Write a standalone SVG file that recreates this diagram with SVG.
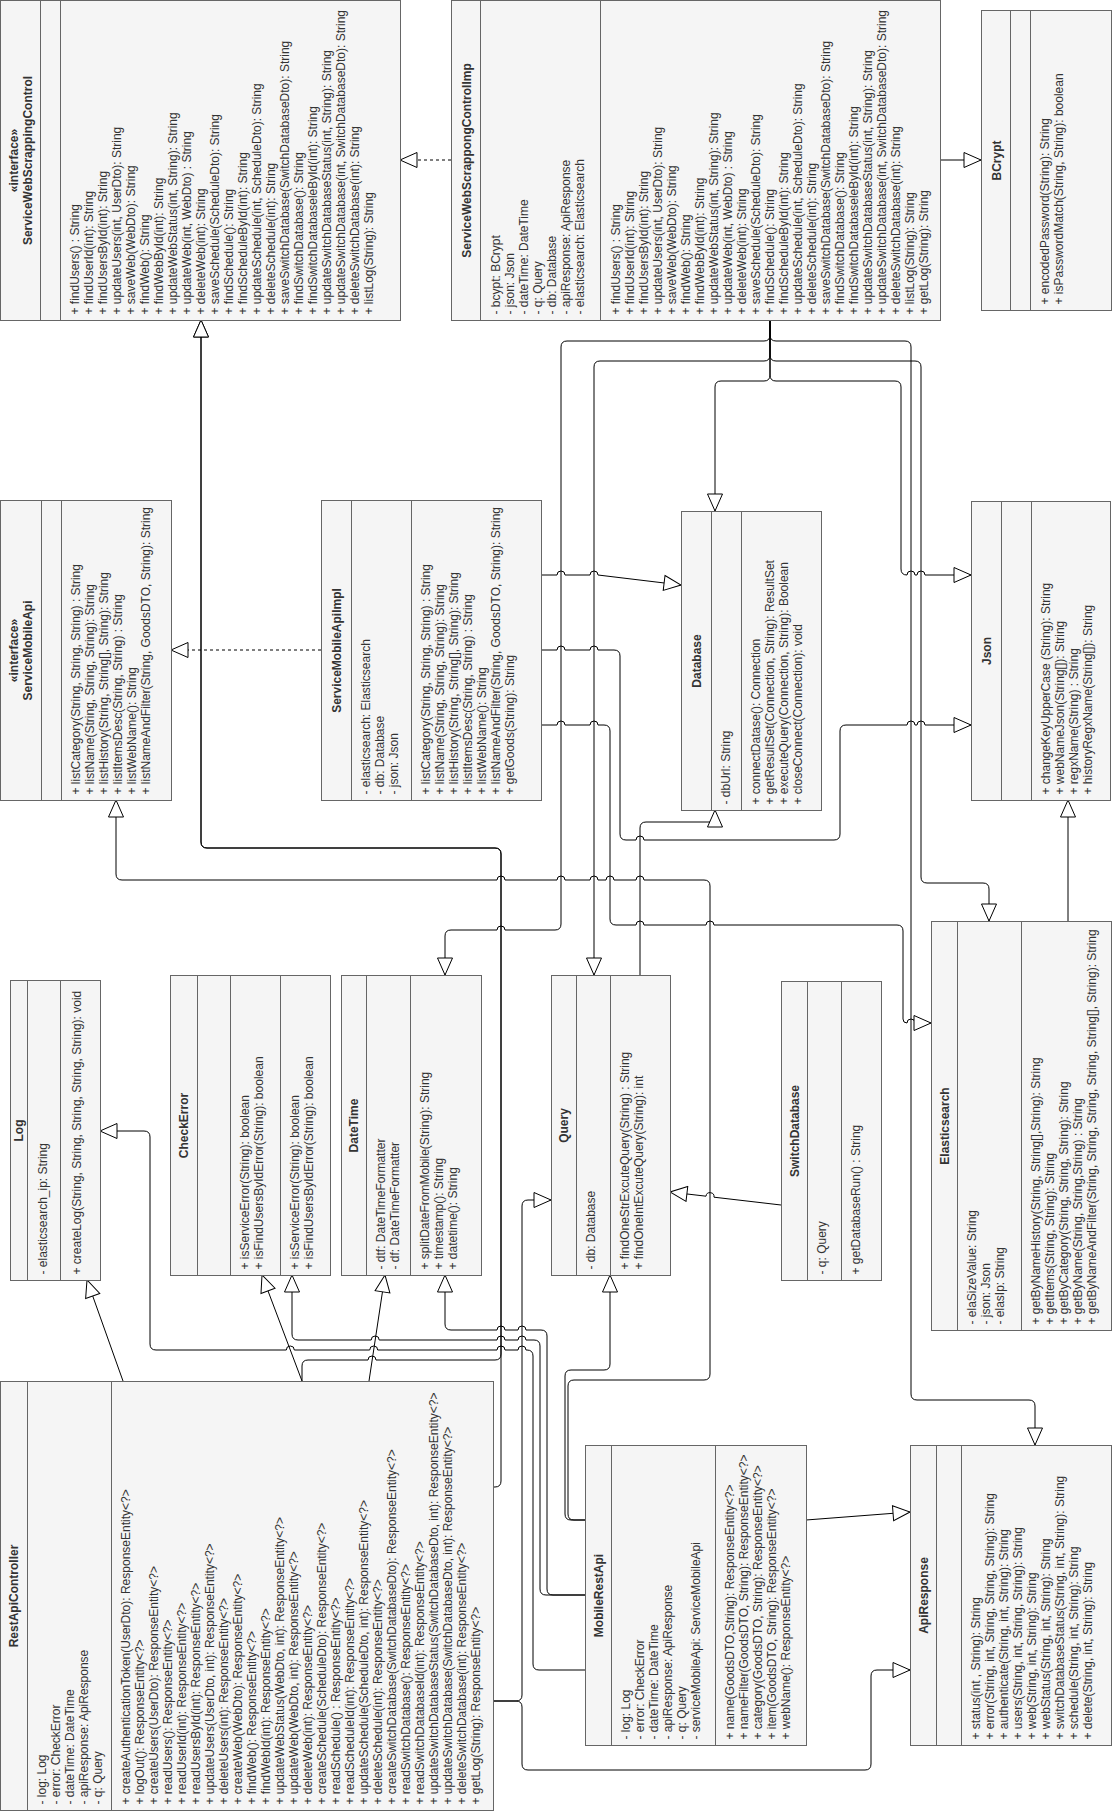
<svg xmlns="http://www.w3.org/2000/svg" width="1114" height="1811" viewBox="0 0 1114 1811">
<style>
.box{fill:#f5f5f5;stroke:#666666;stroke-width:1}
.dv{stroke:#666666;stroke-width:1}
text{font-family:"Liberation Sans",Arial,Helvetica,sans-serif;font-size:12px;fill:#333333}
.h{font-weight:bold;text-anchor:middle}
.e{fill:none;stroke:#000000;stroke-width:1;marker-end:url(#tri)}
.d{stroke-dasharray:3 3}
</style>
<defs>
<marker id="tri" viewBox="0 0 19 17" refX="18" refY="8.5" markerWidth="19" markerHeight="17" markerUnits="userSpaceOnUse" orient="auto">
<path d="M1,1 L18,8.5 L1,16 Z" fill="#ffffff" stroke="#000000" stroke-width="1"/>
</marker>
</defs>

<!-- connectors (orthogonal, rounded corners, arc jumps at crossings) -->
<g id="edges">
<path class="e d" d="M451,160 H400"/>
<path class="e" d="M940,160 H981"/>
<!-- ServiceWebScrappongControlImp associations -->
<path class="e" d="M770,320 V335 Q770,341 764,341 H567 Q561,341 561,347 V924 Q561,930 555,930 H505 A4,4 0 0 0 497,930 H451 Q445,930 445,936 V975"/>
<path class="e" d="M770,320 V355 Q770,361 764,361 H600 Q594,361 594,367 V975"/>
<path class="e" d="M770,320 V375 Q770,381 764,381 H721 Q715,381 715,387 V511"/>
<path class="e" d="M770,320 V375 Q770,381 776,381 H895 Q901,381 901,387 V569 Q901,575 907,575 A4,4 0 0 1 915,575 H917 A4,4 0 0 1 925,575 H971"/>
<path class="e" d="M770,320 V335 Q770,341 776,341 H905 Q911,341 911,347 V1394 Q911,1400 917,1400 H1029 Q1035,1400 1035,1406 V1445"/>
<path class="e" d="M770,320 V355 Q770,361 776,361 H915 Q921,361 921,367 V877 Q921,883 927,883 H983 Q989,883 989,889 V921"/>
<!-- ServiceMobileApiImpl -->
<path class="e d" d="M321,650 H171"/>
<path class="e" d="M541,575 H557 A4,4 0 0 1 565,575 H590 A4,4 0 0 1 598,575 L681,585"/>
<path class="e" d="M541,650 H557 A4,4 0 0 1 565,650 H590 A4,4 0 0 1 598,650 H614 Q620,650 620,656 V834 Q620,840 626,840 H636 A4,4 0 0 1 644,840 H834 Q840,840 840,834 V731 Q840,725 846,725 H907 A4,4 0 0 1 915,725 H917 A4,4 0 0 1 925,725 H971"/>
<path class="e" d="M541,725 H557 A4,4 0 0 1 565,725 H590 A4,4 0 0 1 598,725 H604 Q610,725 610,731 V919 Q610,925 616,925 H636 A4,4 0 0 1 644,925 H706 A4,4 0 0 1 714,925 H897 Q903,925 903,931 V1019 Q903,1023 907,1023 A4,4 0 0 1 915,1023 H931"/>
<path class="e" d="M1068,921 V800"/>
<path class="e" d="M640,975 V828 Q640,822 646,822 H709 Q715,822 715,816 V810"/>
<path class="e" d="M781,1205 L714,1197.2 A4,4 0 0 0 706,1196.2 L670,1192"/>
<!-- RestApiController -->
<path class="e" d="M302,1381 V1366 Q302,1360 308,1360 H368 A4,4 0 0 1 376,1360 H495 Q501,1360 501,1354 V854 Q501,848 495,848 H207 Q201,848 201,842 V320"/>
<path class="e" d="M493,1487 H495 Q501,1487 501,1481 V854 Q501,848 495,848 H207 Q201,848 201,842 V320"/>
<path class="e" d="M493,1701 H516 Q522,1701 522,1695 V1206 Q522,1200 528,1200 H551"/>
<path class="e" d="M123,1381 L87,1280"/>
<path class="e" d="M302,1381 L262,1275"/>
<path class="e" d="M369,1381 L385,1275"/>
<path class="e" d="M493,1701 H516 Q522,1701 522,1707 V1764 Q522,1770 528,1770 H865 Q871,1770 871,1764 V1676 Q871,1670 877,1670 H910"/>
<!-- MobileRestApi -->
<path class="e" d="M806,1520 L910,1512"/>
<path class="e" d="M585,1670 H539 Q533,1670 533,1664 V1356 Q533,1350 527,1350 H526 A4,4 0 0 0 518,1350 H505 A4,4 0 0 0 497,1350 H377.7 A4,4 0 0 0 369.7,1350 H294.3 A4,4 0 0 0 286.3,1350 H156 Q150,1350 150,1344 V1137 Q150,1131 144,1131 H100"/>
<path class="e" d="M585,1595 H546 Q540,1595 540,1589 V1346 Q540,1340 534,1340 H526 A4,4 0 0 0 518,1340 H505 A4,4 0 0 0 497,1340 H379.2 A4,4 0 0 0 371.2,1340 H298 Q292,1340 292,1334 V1275"/>
<path class="e" d="M585,1595 H553 Q547,1595 547,1589 V1336 Q547,1330 541,1330 H526 A4,4 0 0 0 518,1330 H505 A4,4 0 0 0 497,1330 H451 Q445,1330 445,1324 V1275"/>
<path class="e" d="M585,1520 H571 Q565,1520 565,1514 V1376 Q565,1370 571,1370 H604 Q610,1370 610,1364 V1275"/>
<path class="e" d="M585,1520 H574 Q568,1520 568,1514 V1386 Q568,1380 574,1380 H704 Q710,1380 710,1374 V886 Q710,880 704,880 H644 A4,4 0 0 0 636,880 H614 A4,4 0 0 0 606,880 H598 A4,4 0 0 0 590,880 H565 A4,4 0 0 0 557,880 H505 A4,4 0 0 0 497,880 H122 Q116,880 116,874 V800"/>
</g>

<!-- ServiceWebScrappingControl -->
<g id="n-service-web-scrapping-control" transform="translate(0.5,320.5) rotate(-90)">
<rect class="box" x="0" y="0" width="320" height="400"/>
<line class="dv" x1="0" y1="40" x2="320" y2="40"/>
<line class="dv" x1="0" y1="60" x2="320" y2="60"/>
<text class="h" x="160" y="17.5">«interface»</text>
<text class="h" x="160" y="31.5">ServiceWebScrappingControl</text>
<text x="6" y="78">+ findUsers() : String</text>
<text x="6" y="92">+ findUserId(int): String</text>
<text x="6" y="106">+ findUsersById(int): String</text>
<text x="6" y="120">+ updateUsers(int, UserDto): String</text>
<text x="6" y="134">+ saveWeb(WebDto): String</text>
<text x="6" y="148">+ findWeb(): String</text>
<text x="6" y="162">+ findWebById(int): String</text>
<text x="6" y="176">+ updateWebStatus(int, String): String</text>
<text x="6" y="190">+ updateWeb(int, WebDto) : String</text>
<text x="6" y="204">+ deleteWeb(int): String</text>
<text x="6" y="218">+ saveSchedule(ScheduleDto): String</text>
<text x="6" y="232">+ findSchedule(): String</text>
<text x="6" y="246">+ findScheduleById(int): String</text>
<text x="6" y="260">+ updateSchedule(int, ScheduleDto): String</text>
<text x="6" y="274">+ deleteSchedule(int): String</text>
<text x="6" y="288">+ saveSwitchDatabase(SwitchDatabaseDto): String</text>
<text x="6" y="302">+ findSwitchDatabase(): String</text>
<text x="6" y="316">+ findSwitchDatabaseleById(int): String</text>
<text x="6" y="330">+ updateSwitchDatabaseStatus(int, String): String</text>
<text x="6" y="344">+ updateSwitchDatabase(int, SwitchDatabaseDto): String</text>
<text x="6" y="358">+ deleteSwitchDatabase(int): String</text>
<text x="6" y="372">+ listLog(String): String</text>
</g>

<!-- ServiceWebScrappongControlImp -->
<g id="n-service-web-scrappong-control-imp" transform="translate(451.5,320.5) rotate(-90)">
<rect class="box" x="0" y="0" width="320" height="489"/>
<line class="dv" x1="0" y1="29" x2="320" y2="29"/>
<line class="dv" x1="0" y1="149" x2="320" y2="149"/>
<text class="h" x="160" y="19">ServiceWebScrappongControlImp</text>
<text x="6" y="48">- bcypt: BCrypt</text>
<text x="6" y="62">- json: Json</text>
<text x="6" y="76">- dateTime: DateTime</text>
<text x="6" y="90">- q: Query</text>
<text x="6" y="104">- db: Database</text>
<text x="6" y="118">- apiResponse: ApiResponse</text>
<text x="6" y="132">- elasticsearch: Elasticsearch</text>
<text x="6" y="168">+ findUsers() : String</text>
<text x="6" y="182">+ findUserId(int): String</text>
<text x="6" y="196">+ findUsersById(int): String</text>
<text x="6" y="210">+ updateUsers(int, UserDto): String</text>
<text x="6" y="224">+ saveWeb(WebDto): String</text>
<text x="6" y="238">+ findWeb(): String</text>
<text x="6" y="252">+ findWebById(int): String</text>
<text x="6" y="266">+ updateWebStatus(int, String): String</text>
<text x="6" y="280">+ updateWeb(int, WebDto) : String</text>
<text x="6" y="294">+ deleteWeb(int): String</text>
<text x="6" y="308">+ saveSchedule(ScheduleDto): String</text>
<text x="6" y="322">+ findSchedule(): String</text>
<text x="6" y="336">+ findScheduleById(int): String</text>
<text x="6" y="350">+ updateSchedule(int, ScheduleDto): String</text>
<text x="6" y="364">+ deleteSchedule(int): String</text>
<text x="6" y="378">+ saveSwitchDatabase(SwitchDatabaseDto): String</text>
<text x="6" y="392">+ findSwitchDatabase(): String</text>
<text x="6" y="406">+ findSwitchDatabaseleById(int): String</text>
<text x="6" y="420">+ updateSwitchDatabaseStatus(int, String): String</text>
<text x="6" y="434">+ updateSwitchDatabase(int, SwitchDatabaseDto): String</text>
<text x="6" y="448">+ deleteSwitchDatabase(int): String</text>
<text x="6" y="462">+ listLog(String): String</text>
<text x="6" y="476">+ getLog(String): String</text>
</g>

<!-- BCrypt -->
<g id="n-bcrypt" transform="translate(981.5,310.5) rotate(-90)">
<rect class="box" x="0" y="0" width="300" height="130"/>
<line class="dv" x1="0" y1="29" x2="300" y2="29"/>
<line class="dv" x1="0" y1="49" x2="300" y2="49"/>
<text class="h" x="150" y="19">BCrypt</text>
<text x="6" y="67.5">+ encodedPassword(String): String</text>
<text x="6" y="81.5">+ isPasswordMatch(String, String): boolean</text>
</g>

<!-- ServiceMobileApi -->
<g id="n-service-mobile-api" transform="translate(0.5,800.5) rotate(-90)">
<rect class="box" x="0" y="0" width="300" height="171"/>
<line class="dv" x1="0" y1="41" x2="300" y2="41"/>
<line class="dv" x1="0" y1="61" x2="300" y2="61"/>
<text class="h" x="150" y="17.8">«interface»</text>
<text class="h" x="150" y="31.8">ServiceMobileApi</text>
<text x="6" y="79.5">+ listCategory(String, String, String) : String</text>
<text x="6" y="93.5">+ listName(String, String, String): String</text>
<text x="6" y="107.5">+ listHistory(String, String[], String): String</text>
<text x="6" y="121.5">+ listItemsDesc(String, String) : String</text>
<text x="6" y="135.5">+ listWebName(): String</text>
<text x="6" y="149.5">+ listNameAndFilter(String, GoodsDTO, String): String</text>
</g>

<!-- ServiceMobileApiImpl -->
<g id="n-service-mobile-api-impl" transform="translate(321.5,800.5) rotate(-90)">
<rect class="box" x="0" y="0" width="300" height="220"/>
<line class="dv" x1="0" y1="30" x2="300" y2="30"/>
<line class="dv" x1="0" y1="90" x2="300" y2="90"/>
<text class="h" x="150" y="19.3">ServiceMobileApiImpl</text>
<text x="6" y="48.5">- elasticsearch: Elasticsearch</text>
<text x="6" y="62.5">- db: Database</text>
<text x="6" y="76.5">- json: Json</text>
<text x="6" y="108.5">+ listCategory(String, String, String) : String</text>
<text x="6" y="122.5">+ listName(String, String, String): String</text>
<text x="6" y="136.5">+ listHistory(String, String[], String): String</text>
<text x="6" y="150.5">+ listItemsDesc(String, String) : String</text>
<text x="6" y="164.5">+ listWebName(): String</text>
<text x="6" y="178.5">+ listNameAndFilter(String, GoodsDTO, String): String</text>
<text x="6" y="192.5">+ getGoods(String): String</text>
</g>

<!-- Database -->
<g id="n-database" transform="translate(681.5,810.5) rotate(-90)">
<rect class="box" x="0" y="0" width="299" height="140"/>
<line class="dv" x1="0" y1="30" x2="299" y2="30"/>
<line class="dv" x1="0" y1="60" x2="299" y2="60"/>
<text class="h" x="149.5" y="19.3">Database</text>
<text x="6" y="48.5">- dbUrl: String</text>
<text x="6" y="78.5">+ connectDatase(): Connection</text>
<text x="6" y="92.5">+ getResultSet(Connection, String): ResultSet</text>
<text x="6" y="106.5">+ executeQuery(Connection, String): Boolean</text>
<text x="6" y="120.5">+ closeConnect(Connection): void</text>
</g>

<!-- Json -->
<g id="n-json" transform="translate(971.5,800.5) rotate(-90)">
<rect class="box" x="0" y="0" width="299" height="139"/>
<line class="dv" x1="0" y1="30" x2="299" y2="30"/>
<line class="dv" x1="0" y1="60" x2="299" y2="60"/>
<text class="h" x="149.5" y="19.3">Json</text>
<text x="6" y="78.5">+ changeKeyUpperCase (String): String</text>
<text x="6" y="92.5">+ webNameJson(String[]): String</text>
<text x="6" y="106.5">+ regxName(String) : String</text>
<text x="6" y="120.5">+ historyRegxName(String[]): String</text>
</g>

<!-- Log -->
<g id="n-log" transform="translate(10.5,1280.5) rotate(-90)">
<rect class="box" x="0" y="0" width="300" height="90"/>
<line class="dv" x1="0" y1="17" x2="300" y2="17"/>
<line class="dv" x1="0" y1="50" x2="300" y2="50"/>
<text class="h" x="150" y="12.8">Log</text>
<text x="6" y="36">- elasticsearch_ip: String</text>
<text x="6" y="70">+ createLog(String, String, String, String, String): void</text>
</g>

<!-- CheckError -->
<g id="n-check-error" transform="translate(170.5,1275.5) rotate(-90)">
<rect class="box" x="0" y="0" width="300" height="160"/>
<line class="dv" x1="0" y1="27" x2="300" y2="27"/>
<line class="dv" x1="0" y1="60" x2="300" y2="60"/>
<line class="dv" x1="0" y1="110" x2="300" y2="110"/>
<text class="h" x="150" y="17.8">CheckError</text>
<text x="6" y="78.5">+ isServiceError(String): boolean</text>
<text x="6" y="92.5">+ isFindUsersByIdError(String): boolean</text>
<text x="6" y="128.5">+ isServiceError(String): boolean</text>
<text x="6" y="142.5">+ isFindUsersByIdError(String): boolean</text>
</g>

<!-- DateTime -->
<g id="n-date-time" transform="translate(341.5,1275.5) rotate(-90)">
<rect class="box" x="0" y="0" width="300" height="140"/>
<line class="dv" x1="0" y1="25" x2="300" y2="25"/>
<line class="dv" x1="0" y1="69" x2="300" y2="69"/>
<text class="h" x="150" y="16.8">DateTime</text>
<text x="6" y="43.5">- dtf: DateTimeFormatter</text>
<text x="6" y="57.5">- df: DateTimeFormatter</text>
<text x="6" y="87.5">+ splitDateFromMobile(String): String</text>
<text x="6" y="101.5">+ timestamp(): String</text>
<text x="6" y="115.5">+ datetime(): String</text>
</g>

<!-- Query -->
<g id="n-query" transform="translate(551.5,1275.5) rotate(-90)">
<rect class="box" x="0" y="0" width="300" height="119"/>
<line class="dv" x1="0" y1="25" x2="300" y2="25"/>
<line class="dv" x1="0" y1="59" x2="300" y2="59"/>
<text class="h" x="150" y="16.8">Query</text>
<text x="6" y="43.5">- db: Database</text>
<text x="6" y="77.5">+ findOneStrExcuteQuery(String) : String</text>
<text x="6" y="91.5">+ findOneIntExcuteQuery(String): int</text>
</g>

<!-- SwitchDatabase -->
<g id="n-switch-database" transform="translate(781.5,1280.5) rotate(-90)">
<rect class="box" x="0" y="0" width="299" height="100"/>
<line class="dv" x1="0" y1="26" x2="299" y2="26"/>
<line class="dv" x1="0" y1="60" x2="299" y2="60"/>
<text class="h" x="149.5" y="17.3">SwitchDatabase</text>
<text x="6" y="44.5">- q: Query</text>
<text x="6" y="78.5">+ getDatabaseRun() : String</text>
</g>

<!-- Elasticsearch -->
<g id="n-elasticsearch" transform="translate(931.5,1330.5) rotate(-90)">
<rect class="box" x="0" y="0" width="409" height="180"/>
<line class="dv" x1="0" y1="26" x2="409" y2="26"/>
<line class="dv" x1="0" y1="90" x2="409" y2="90"/>
<text class="h" x="204.5" y="17.3">Elasticsearch</text>
<text x="6" y="44.5">- elaSizeValue: String</text>
<text x="6" y="58.5">- json: Json</text>
<text x="6" y="72.5">- elasIp: String</text>
<text x="6" y="108.5">+ getByNameHistory(String, String[],String): String</text>
<text x="6" y="122.5">+ getItems(String, String): String</text>
<text x="6" y="136.5">+ getByCategory(String, String, String): String</text>
<text x="6" y="150.5">+ getByName(String, String,String) : String</text>
<text x="6" y="164.5">+ getByNameAndFilter(String, String, String, String, String[], String): String</text>
</g>

<!-- RestApiController -->
<g id="n-rest-api-controller" transform="translate(0.5,1810.5) rotate(-90)">
<rect class="box" x="0" y="0" width="429" height="493"/>
<line class="dv" x1="0" y1="27" x2="429" y2="27"/>
<line class="dv" x1="0" y1="111" x2="429" y2="111"/>
<text class="h" x="214.5" y="17.8">RestApiController</text>
<text x="6" y="45.5">- log: Log</text>
<text x="6" y="59.5">- error: CheckError</text>
<text x="6" y="73.5">- dateTime: DateTime</text>
<text x="6" y="87.5">- apiResponse: ApiResponse</text>
<text x="6" y="101.5">- q: Query</text>
<text x="6" y="129.5">+ createAuthenticationToken(UserDto): ResponseEntity&lt;?&gt;</text>
<text x="6" y="143.5">+ logOut(): ResponseEntity&lt;?&gt;</text>
<text x="6" y="157.5">+ createUsers(UserDto): ResponseEntity&lt;?&gt;</text>
<text x="6" y="171.5">+ readUsers(): ResponseEntity&lt;?&gt;</text>
<text x="6" y="185.5">+ readUserId(int): ResponseEntity&lt;?&gt;</text>
<text x="6" y="199.5">+ readUsersById(int): ResponseEntity&lt;?&gt;</text>
<text x="6" y="213.5">+ updateUsers(UserDto, int): ResponseEntity&lt;?&gt;</text>
<text x="6" y="227.5">+ deleteUsers(int): ResponseEntity&lt;?&gt;</text>
<text x="6" y="241.5">+ createWeb(WebDto): ResponseEntity&lt;?&gt;</text>
<text x="6" y="255.5">+ findWeb(): ResponseEntity&lt;?&gt;</text>
<text x="6" y="269.5">+ findWebId(int): ResponseEntity&lt;?&gt;</text>
<text x="6" y="283.5">+ updateWebStatus(WebDto, int): ResponseEntity&lt;?&gt;</text>
<text x="6" y="297.5">+ updateWeb(WebDto, int): ResponseEntity&lt;?&gt;</text>
<text x="6" y="311.5">+ deleteWeb(int): ResponseEntity&lt;?&gt;</text>
<text x="6" y="325.5">+ createSchedule(ScheduleDto): ResponseEntity&lt;?&gt;</text>
<text x="6" y="339.5">+ readSchedule() : ResponseEntity&lt;?&gt;</text>
<text x="6" y="353.5">+ readScheduleId(int): ResponseEntity&lt;?&gt;</text>
<text x="6" y="367.5">+ updateSchedule(ScheduleDto, int): ResponseEntity&lt;?&gt;</text>
<text x="6" y="381.5">+ deleteSchedule(int): ResponseEntity&lt;?&gt;</text>
<text x="6" y="395.5">+ createSwitchDatabase(SwitchDatabaseDto): ResponseEntity&lt;?&gt;</text>
<text x="6" y="409.5">+ readSwitchDatabase(): ResponseEntity&lt;?&gt;</text>
<text x="6" y="423.5">+ readSwitchDatabaseId(int): ResponseEntity&lt;?&gt;</text>
<text x="6" y="437.5">+ updateSwitchDatabaseStatus(SwitchDatabaseDto, int): ResponseEntity&lt;?&gt;</text>
<text x="6" y="451.5">+ updateSwitchDatabase(SwitchDatabaseDto, int): ResponseEntity&lt;?&gt;</text>
<text x="6" y="465.5">+ deleteSwitchDatabase(int): ResponseEntity&lt;?&gt;</text>
<text x="6" y="479.5">+ getLog(String): ResponseEntity&lt;?&gt;</text>
</g>

<!-- MobileRestApi -->
<g id="n-mobile-rest-api" transform="translate(585.5,1745.5) rotate(-90)">
<rect class="box" x="0" y="0" width="300" height="221"/>
<line class="dv" x1="0" y1="26" x2="300" y2="26"/>
<line class="dv" x1="0" y1="130" x2="300" y2="130"/>
<text class="h" x="150" y="17.3">MobileRestApi</text>
<text x="6" y="44.5">- log: Log</text>
<text x="6" y="58.5">- error: CheckError</text>
<text x="6" y="72.5">- dateTime: DateTime</text>
<text x="6" y="86.5">- apiResponse: ApiResponse</text>
<text x="6" y="100.5">- q: Query</text>
<text x="6" y="114.5">- serviceMobileApi: ServiceMobileApi</text>
<text x="6" y="148.5">+ name(GoodsDTO,String): ResponseEntity&lt;?&gt;</text>
<text x="6" y="162.5">+ nameFilter(GoodsDTO, String): ResponseEntity&lt;?&gt;</text>
<text x="6" y="176.5">+ category(GoodsDTO, String): ResponseEntity&lt;?&gt;</text>
<text x="6" y="190.5">+ item(GoodsDTO, String): ResponseEntity&lt;?&gt;</text>
<text x="6" y="204.5">+ webName(): ResponseEntity&lt;?&gt;</text>
</g>

<!-- ApiResponse -->
<g id="n-api-response" transform="translate(910.5,1745.5) rotate(-90)">
<rect class="box" x="0" y="0" width="300" height="201"/>
<line class="dv" x1="0" y1="26" x2="300" y2="26"/>
<line class="dv" x1="0" y1="51" x2="300" y2="51"/>
<text class="h" x="150" y="17.3">ApiResponse</text>
<text x="6" y="69.5">+ status(int , String): String</text>
<text x="6" y="83.5">+ error(String, int, String, String, String): String</text>
<text x="6" y="97.5">+ authenticate(String, int, String): String</text>
<text x="6" y="111.5">+ users(String, int, String, String): String</text>
<text x="6" y="125.5">+ web(String, int, String): String</text>
<text x="6" y="139.5">+ webStatus(String, int, String): String</text>
<text x="6" y="153.5">+ switchDatabaseStatus(String, int, String): String</text>
<text x="6" y="167.5">+ schedule(String, int, String): String</text>
<text x="6" y="181.5">+ delete(String, int, String): String</text>
</g>
</svg>
